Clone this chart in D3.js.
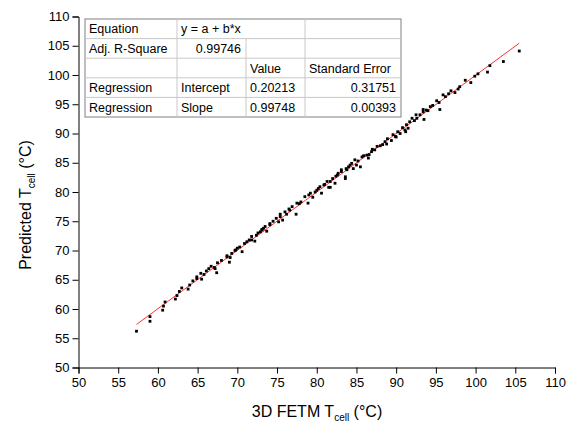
<!DOCTYPE html>
<html><head><meta charset="utf-8">
<script src="https://cdn.jsdelivr.net/npm/d3@7"></script>
<style>body{margin:0;background:#fff}svg{display:block;font-family:"Liberation Sans",Arial,sans-serif}</style>
</head><body>
<script>
const xTicks = [50,55,60,65,70,75,80,85,90,95,100,105,110];
const yTicks = [50,55,60,65,70,75,80,85,90,95,100,105,110];
const fetmX = [57.3,59.0,59.0,60.6,60.7,60.9,62.2,62.4,62.7,63.0,63.8,64.0,64.4,64.9,64.9,65.4,65.5,65.8,66.1,66.4,66.7,67.1,67.2,67.4,67.5,68.0,68.7,68.7,69.0,69.1,69.3,69.7,69.8,70.0,70.3,70.6,70.9,71.2,71.5,71.8,71.8,72.2,72.4,72.6,72.9,73.1,73.1,73.3,73.5,73.7,74.1,74.1,74.5,74.9,75.2,75.4,75.4,75.7,76.0,76.2,76.5,76.6,76.9,77.4,77.5,77.8,78.0,78.5,78.9,79.0,79.2,79.5,79.8,80.0,80.2,80.4,80.6,80.9,81.0,81.3,81.5,81.7,81.7,82.0,82.3,82.4,82.6,82.7,83.1,83.1,83.6,83.6,83.7,83.8,84.0,84.2,84.4,84.6,84.8,85.0,85.2,85.5,85.7,85.9,86.3,86.5,86.6,86.9,87.0,87.3,87.6,88.0,88.3,88.6,88.8,88.9,89.4,89.6,89.9,90.0,90.2,90.5,90.8,91.1,91.2,91.3,91.5,91.7,92.0,92.3,92.5,92.6,93.0,93.4,93.4,93.5,93.8,94.0,94.3,94.6,95.1,95.4,95.5,95.9,96.2,96.6,96.9,97.4,97.8,98.0,98.7,99.4,99.9,100.3,101.5,101.8,103.5,105.5];
const predY = [56.2,58.7,57.9,59.8,60.5,61.2,61.7,62.3,63.0,63.6,63.4,64.1,64.8,65.5,65.2,66.1,65.1,65.9,66.5,66.9,67.3,67.1,66.9,66.2,67.9,68.3,69.1,68.9,68.0,68.8,69.5,70.0,70.1,70.4,70.6,69.8,71.2,71.5,71.8,72.4,71.8,71.6,72.6,73.0,73.2,73.5,73.6,73.8,74.1,73.3,74.6,74.4,75.0,75.5,74.9,76.2,75.8,75.2,76.6,76.2,77.1,76.9,77.5,76.2,78.1,78.0,78.3,79.2,78.1,79.5,79.8,79.1,80.0,80.3,80.6,80.9,79.8,81.2,81.3,81.8,80.8,81.8,80.8,82.3,81.5,82.7,82.9,83.2,83.5,83.8,82.3,82.6,84.0,83.8,84.3,84.6,84.9,84.0,85.5,84.6,85.3,84.3,86.0,86.2,86.3,85.8,86.4,86.9,87.3,87.2,87.8,87.9,88.1,88.6,88.2,89.1,88.8,89.8,89.5,89.4,90.3,90.0,91.0,90.6,90.3,91.5,90.9,92.0,92.6,92.2,93.2,92.6,93.2,93.7,94.1,92.4,94.0,93.9,94.6,94.8,95.6,95.3,94.1,96.6,96.3,96.8,97.3,97.0,97.6,98.0,99.1,98.7,99.8,100.2,100.5,101.6,102.3,104.1];
const fitA = 0.20213, fitB = 0.99748;
const tableRows = [
  ["Equation","y = a + b*x","",""],
  ["Adj. R-Square","0.99746","",""],
  ["","","Value","Standard Error"],
  ["Regression","Intercept","0.20213","0.31751"],
  ["Regression","Slope","0.99748","0.00393"]
];

const W=566,H=426;
const svg=d3.select("body").append("svg").attr("width",W).attr("height",H);
const x=d3.scaleLinear().domain([50,110]).range([78.5,555]);
const y=d3.scaleLinear().domain([50,110]).range([367.5,16.5]);

const gx=svg.append("g").attr("transform",`translate(0,${y(50)})`)
  .call(d3.axisBottom(x).tickValues(xTicks).tickSize(6).tickPadding(4).tickFormat(d3.format("d")));
const gy=svg.append("g").attr("transform",`translate(${x(50)},0)`)
  .call(d3.axisLeft(y).tickValues(yTicks).tickSize(6).tickPadding(3).tickFormat(d3.format("d")));
[gx,gy].forEach(g=>{
  g.selectAll("path,line").attr("stroke","#000").attr("stroke-width",1);
  g.selectAll("text").attr("font-size",13).attr("fill","#000").attr("font-family","Liberation Sans, Arial, sans-serif");
});

const colX=[85,177,246,305,401];
const rowY=[19,38.6,58.2,77.8,97.4,117];
const tg=svg.append("g");
tg.append("rect").attr("x",colX[0]).attr("y",rowY[0]).attr("width",colX[4]-colX[0]).attr("height",rowY[5]-rowY[0])
  .attr("fill","#fff").attr("stroke","#808080").attr("stroke-width",1);
for(let r=1;r<5;r++) tg.append("line").attr("x1",colX[0]).attr("x2",colX[4]).attr("y1",rowY[r]).attr("y2",rowY[r]).attr("stroke","#c8c8c8");
for(let c=1;c<4;c++){
  for(let r=0;r<5;r++){
    if(c===2 && r===0) continue;
    tg.append("line").attr("x1",colX[c]).attr("x2",colX[c]).attr("y1",rowY[r]).attr("y2",rowY[r+1]).attr("stroke","#c8c8c8");
  }
}
tableRows.forEach((row,r)=>{
  row.forEach((t,c)=>{
    if(!t) return;
    const right = (r===1&&c===1)||(r>=3&&c===3);
    tg.append("text").attr("x", right? colX[c+1]-5 : colX[c]+4).attr("y",(rowY[r]+rowY[r+1])/2+4.5)
      .attr("text-anchor", right?"end":"start").attr("font-size",12.5).attr("fill","#000").text(t);
  });
});

const xmin=d3.min(fetmX), xmax=d3.max(fetmX);
svg.append("line").attr("x1",x(xmin)).attr("y1",y(fitA+fitB*xmin)).attr("x2",x(xmax)).attr("y2",y(fitA+fitB*xmax))
  .attr("stroke","#ff3030").attr("stroke-width",1);

svg.append("g").selectAll("rect").data(fetmX.map((v,i)=>[v,predY[i]])).join("rect")
  .attr("x",d=>x(d[0])-1.4).attr("y",d=>y(d[1])-1.4).attr("width",2.8).attr("height",2.8).attr("fill","#000");

const xt=svg.append("text").attr("x",317).attr("y",417).attr("text-anchor","middle").attr("font-size",16).attr("fill","#000");
xt.append("tspan").text("3D FETM T");
xt.append("tspan").attr("font-size",10).attr("dy",4).text("cell");
xt.append("tspan").attr("dy",-4).text(" (°C)");
const yt=svg.append("text").attr("transform","translate(31,205) rotate(-90)").attr("text-anchor","middle").attr("font-size",16).attr("fill","#000");
yt.append("tspan").text("Predicted T");
yt.append("tspan").attr("font-size",10).attr("dy",4).text("cell");
yt.append("tspan").attr("dy",-4).text(" (°C)");
</script>
</body></html>
